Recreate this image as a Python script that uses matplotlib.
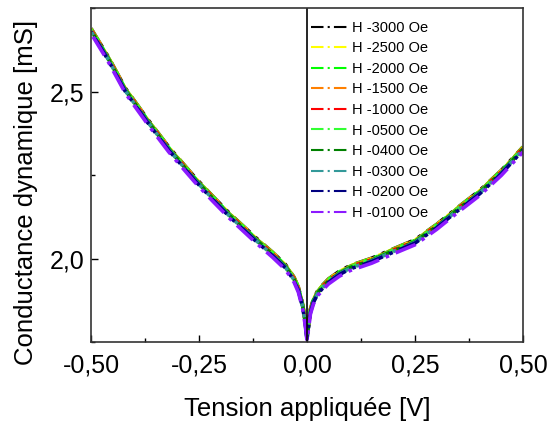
import matplotlib
matplotlib.use("Agg")
import matplotlib.pyplot as plt
from matplotlib.ticker import FuncFormatter, MultipleLocator

plt.rcParams['font.family'] = ['Liberation Sans', 'DejaVu Sans']

# bias voltage (V) and conductance of the common band (mS)
voltage = [-0.50, -0.46, -0.42, -0.37, -0.32, -0.26, -0.22, -0.18, -0.12, -0.08,
           -0.05, -0.03, -0.02, -0.01, -0.004, 0.0, 0.004, 0.008, 0.015, 0.025,
           0.035, 0.05, 0.075, 0.10, 0.15, 0.20, 0.25, 0.30, 0.35, 0.40, 0.45, 0.50]
conductance = [2.685, 2.600, 2.505, 2.415, 2.330, 2.240, 2.185, 2.132, 2.060, 2.015,
               1.978, 1.940, 1.910, 1.860, 1.810, 1.765, 1.805, 1.845, 1.875, 1.900,
               1.915, 1.935, 1.958, 1.975, 1.997, 2.025, 2.052, 2.098, 2.150, 2.200, 2.260, 2.330]

# field labels and their small vertical shift from the common band (mS)
labels = ['H -3000 Oe', 'H -2500 Oe', 'H -2000 Oe', 'H -1500 Oe', 'H -1000 Oe',
          'H -0500 Oe', 'H -0400 Oe', 'H -0300 Oe', 'H -0200 Oe', 'H -0100 Oe']
shifts = [0.004, 0.003, 0.002, 0.001, 0.0, 0.0, -0.002, -0.004, -0.006, -0.011]
colors = ['#000000', '#ffff00', '#00ff00', '#ff8000', '#ff0000',
          '#33ff33', '#008000', '#339999', '#000080', '#8c1aff']

fig = plt.figure(figsize=(5.49, 4.23), dpi=100)
ax = fig.add_axes([91/549, 1 - 342/423, 432/549, 334/423])

for i, (lab, dy, col) in enumerate(zip(labels, shifts, colors)):
    ax.plot(voltage, [g + dy for g in conductance], color=col, lw=2.6,
            linestyle=(i * 1.1, (6, 2, 1, 2)), label=lab)

ax.axvline(0, color='black', lw=1.2)

ax.set_xlim(-0.5, 0.5)
ax.set_ylim(1.75, 2.75)
ax.xaxis.set_major_locator(MultipleLocator(0.25))
ax.xaxis.set_minor_locator(MultipleLocator(0.125))
ax.yaxis.set_major_locator(MultipleLocator(0.5))
ax.yaxis.set_minor_locator(MultipleLocator(0.25))
ax.xaxis.set_major_formatter(FuncFormatter(lambda v, p: f'{v:.2f}'.replace('.', ',')))
ax.yaxis.set_major_formatter(FuncFormatter(lambda v, p: f'{v:.1f}'.replace('.', ',')))
ax.tick_params(which='major', direction='in', length=5, width=1, labelsize=18)
ax.tick_params(axis='x', which='major', pad=8.5)
ax.tick_params(axis='y', which='major', pad=5)
ax.tick_params(which='minor', direction='in', length=3, width=1)
for s in ax.spines.values():
    s.set_linewidth(1.2)
    s.set_color('#333333')

ax.set_xlabel('Tension appliquée [V]', fontsize=18.5, labelpad=14)
ax.set_ylabel('Conductance dynamique [mS]', fontsize=18.5, labelpad=8)
ax.yaxis.label.set_y(0.449)

leg = ax.legend(loc='upper left', bbox_to_anchor=(0.51, 0.962), frameon=False,
                fontsize=10.5, handlelength=2.6, handletextpad=0.2,
                labelspacing=0.45, borderaxespad=0, borderpad=0)
for h in leg.get_lines():
    h.set_linewidth(1.5)
    h.set_linestyle((0, (6, 2, 1, 2)))

fig.savefig('out.png', dpi=100)
